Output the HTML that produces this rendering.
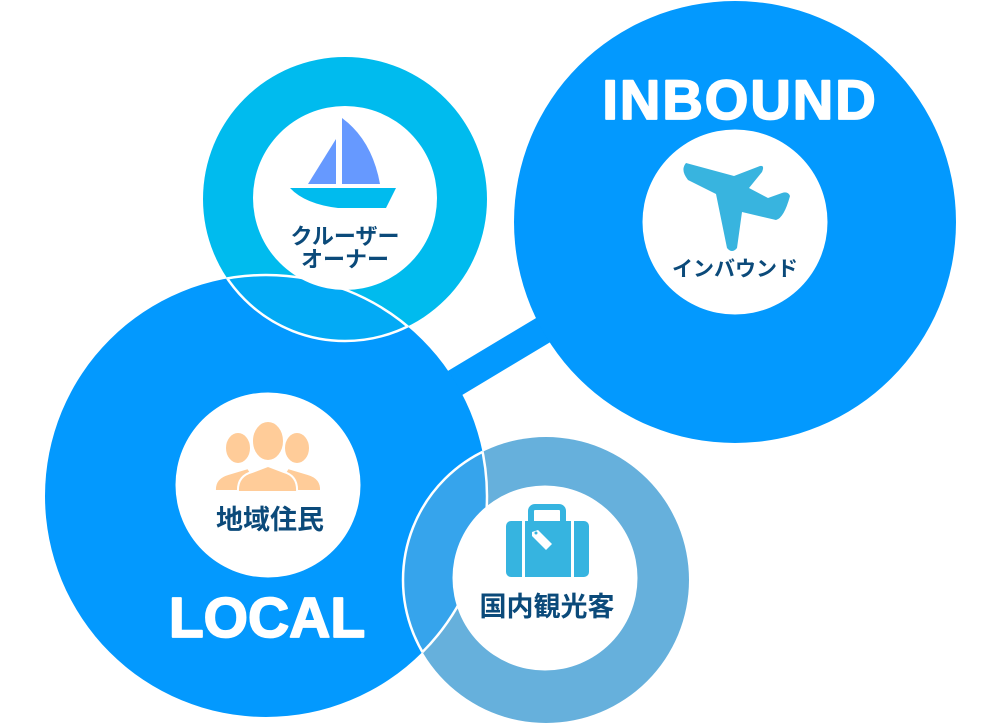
<!DOCTYPE html>
<html><head><meta charset="utf-8"><style>
html,body{margin:0;padding:0;background:#fff;}
svg{display:block;}
.jp{font-family:"Liberation Sans","Noto Sans CJK JP",sans-serif;font-weight:bold;fill:#0b4a7a;}
.en{font-family:"Liberation Sans",sans-serif;font-weight:bold;fill:#fff;stroke:#fff;stroke-width:1.8;stroke-linejoin:round;}
</style></head><body>
<svg width="1000" height="724" viewBox="0 0 1000 724" xmlns="http://www.w3.org/2000/svg">
<defs>
<clipPath id="cl"><circle cx="266" cy="496" r="221"/></clipPath>
<clipPath id="cc"><circle cx="345" cy="199" r="142"/></clipPath>
<clipPath id="cd"><circle cx="546" cy="580" r="143"/></clipPath>
</defs>
<line x1="400" y1="416" x2="600" y2="296" stroke="#0399fe" stroke-width="28"/>
<circle cx="735" cy="222" r="221" fill="#0399fe"/>
<circle cx="266" cy="496" r="221" fill="#0399fe"/>
<circle cx="345" cy="199" r="142" fill="#00bbee"/>
<circle cx="345" cy="199" r="142" fill="#03aaf5" clip-path="url(#cl)"/>
<circle cx="546" cy="580" r="143" fill="#66b0dc"/>
<circle cx="546" cy="580" r="143" fill="#36a4ec" clip-path="url(#cl)"/>
<circle cx="345" cy="199" r="142" fill="none" stroke="#fff" stroke-width="2.5" clip-path="url(#cl)"/>
<circle cx="266" cy="496" r="221" fill="none" stroke="#fff" stroke-width="2.5" clip-path="url(#cc)"/>
<circle cx="546" cy="580" r="143" fill="none" stroke="#fff" stroke-width="2.5" clip-path="url(#cl)"/>
<circle cx="266" cy="496" r="221" fill="none" stroke="#fff" stroke-width="2.5" clip-path="url(#cd)"/>
<circle cx="345" cy="198" r="92" fill="#fff"/>
<circle cx="735" cy="222" r="92.5" fill="#fff"/>
<circle cx="268" cy="485" r="92.5" fill="#fff"/>
<circle cx="545" cy="578" r="92.5" fill="#fff"/>

<polygon points="308,184 336,139 336,184" fill="#6699ff"/>
<path d="M342,118 Q372,140 380,184 L342,184 Z" fill="#6699ff"/>
<path d="M290,188 L396,188 L386,208 L338,208 Q305,204 290,188 Z" fill="#00bbee"/>
<text class="jp" x="345" y="244" font-size="22" text-anchor="middle">クルーザー</text>
<text class="jp" x="345" y="267" font-size="22" text-anchor="middle">オーナー</text>

<path d="M686,163 Q680,170 688,180 L716,194 L727,248 Q732,254 737,248 L742,212 L776,220 Q784,218 790,196 Q788,191 782,193 L768,198 L749,188 L762,172 Q765,165 760,166 L734,176 Z" fill="#38b4df"/>
<text class="jp" x="735" y="276" font-size="21" text-anchor="middle">インバウンド</text>

<g fill="#ffcc99" stroke="#fff" stroke-width="2">
<ellipse cx="238" cy="448" rx="13" ry="16"/>
<path d="M215,491 Q214,478 228,474 L248,468 L262,491 Z"/>
<ellipse cx="297" cy="448" rx="13" ry="16"/>
<path d="M321,491 Q322,478 308,474 L288,468 L274,491 Z"/>
<ellipse cx="268" cy="441" rx="16" ry="20"/>
<path d="M238,492 Q237,476 252,472 L268,466 L284,472 Q298,476 297,492 Z"/>
</g>
<text class="jp" x="270" y="529" font-size="27" text-anchor="middle">地域住民</text>
<text class="en" x="267" y="637" font-size="57" text-anchor="middle">LOCAL</text>
<text class="en" x="740" y="119" font-size="56" text-anchor="middle" letter-spacing="2">INBOUND</text>

<rect x="531" y="507" width="32" height="20" rx="4" fill="none" stroke="#36b4e0" stroke-width="6"/>
<rect x="506" y="521" width="83" height="56" rx="5" fill="#36b4e0"/>
<rect x="522" y="521" width="3" height="56" fill="#fff"/>
<rect x="571" y="521" width="3" height="56" fill="#fff"/>
<path d="M532,532 L538,530 L552,544 L546,550 L532,536 Z" fill="#fff"/>
<circle cx="536" cy="533" r="1.5" fill="#36b4e0"/>
<text class="jp" x="547" y="616" font-size="27" text-anchor="middle">国内観光客</text>
</svg>
</body></html>
